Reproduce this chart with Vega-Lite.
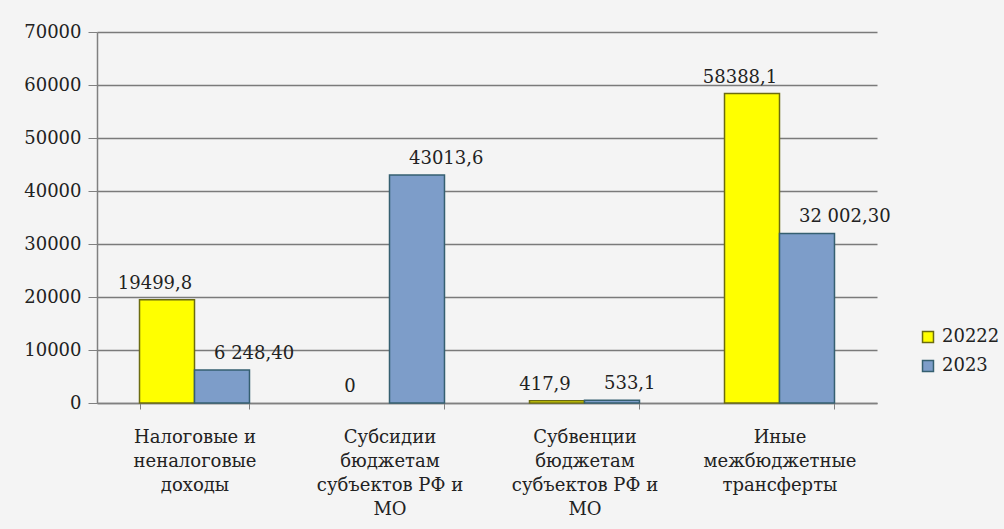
{
  "$schema": "https://vega.github.io/schema/vega-lite/v6.json",
  "autosize": {"type": "none"},
  "padding": {"left": 97, "top": 32, "right": 127, "bottom": 126},
  "width": 780,
  "height": 371,
  "background": "#f4f4f4",
  "config": {"view": {"stroke": null}, "font": "DejaVu Serif"},
  "data": {
    "values": [
      {"category": "Налоговые и|неналоговые|доходы", "year": "20222", "value": 19499.8, "label": "19499,8"},
      {"category": "Налоговые и|неналоговые|доходы", "year": "2023", "value": 6248.4, "label": "6 248,40"},
      {"category": "Субсидии|бюджетам|субъектов РФ и|МО", "year": "20222", "value": 0, "label": "0"},
      {"category": "Субсидии|бюджетам|субъектов РФ и|МО", "year": "2023", "value": 43013.6, "label": "43013,6"},
      {"category": "Субвенции|бюджетам|субъектов РФ и|МО", "year": "20222", "value": 417.9, "label": "417,9"},
      {"category": "Субвенции|бюджетам|субъектов РФ и|МО", "year": "2023", "value": 533.1, "label": "533,1"},
      {"category": "Иные|межбюджетные|трансферты", "year": "20222", "value": 58388.1, "label": "58388,1"},
      {"category": "Иные|межбюджетные|трансферты", "year": "2023", "value": 32002.3, "label": "32 002,30"}
    ]
  },
  "encoding": {
    "x": {
      "field": "category", "type": "nominal", "sort": null,
      "scale": {"paddingInner": 0.436, "paddingOuter": 0.218},
      "axis": {
        "title": null, "labelAngle": 0, "labelExpr": "split(datum.label, '|')",
        "labelFontSize": 18, "labelLineHeight": 24, "labelColor": "#222222",
        "labelPadding": 19, "tickBand": "extent", "tickSize": 6,
        "tickColor": "#808080", "domainColor": "#808080", "domainWidth": 1.5,
        "grid": false, "labelBaseline": "top"
      }
    },
    "xOffset": {"field": "year", "sort": null},
    "y": {
      "field": "value", "type": "quantitative",
      "scale": {"domain": [0, 70000], "nice": false},
      "axis": {
        "title": null, "values": [0, 10000, 20000, 30000, 40000, 50000, 60000, 70000],
        "format": "d", "labelFontSize": 18, "labelColor": "#222222",
        "labelPadding": 7, "tickSize": 9, "tickColor": "#808080",
        "domainColor": "#808080", "domainWidth": 1.5,
        "grid": true, "gridColor": "#7a7a7a", "gridWidth": 1.5
      }
    }
  },
  "layer": [
    {
      "mark": {"type": "bar", "strokeWidth": 1.5},
      "encoding": {
        "color": {
          "field": "year", "type": "nominal", "sort": null,
          "scale": {"domain": ["20222", "2023"], "range": ["#ffff00", "#7d9dc9"]},
          "legend": {
            "title": null, "orient": "none", "legendX": 822, "legendY": 296,
            "symbolType": "square", "symbolSize": 120, "symbolStrokeWidth": 1.5,
            "labelFontSize": 18, "labelColor": "#222222", "rowPadding": 11,
            "padding": 0, "labelOffset": 5
          }
        },
        "stroke": {
          "field": "year", "type": "nominal", "sort": null,
          "scale": {"domain": ["20222", "2023"], "range": ["#6b6b10", "#355f70"]},
          "legend": null
        },
        "strokeOpacity": {"condition": {"test": "datum.value == 0", "value": 0}, "value": 1}
      }
    },
    {
      "transform": [{"filter": "datum.year == '20222'"}],
      "mark": {"type": "text", "dx": -12, "dy": -11, "baseline": "alphabetic", "fontSize": 18, "color": "#222222"},
      "encoding": {"text": {"field": "label"}}
    },
    {
      "transform": [{"filter": "datum.year == '2023'"}],
      "mark": {"type": "text", "align": "left", "dx": -8, "dy": -11, "baseline": "alphabetic", "fontSize": 18, "color": "#222222"},
      "encoding": {"text": {"field": "label"}}
    }
  ]
}
